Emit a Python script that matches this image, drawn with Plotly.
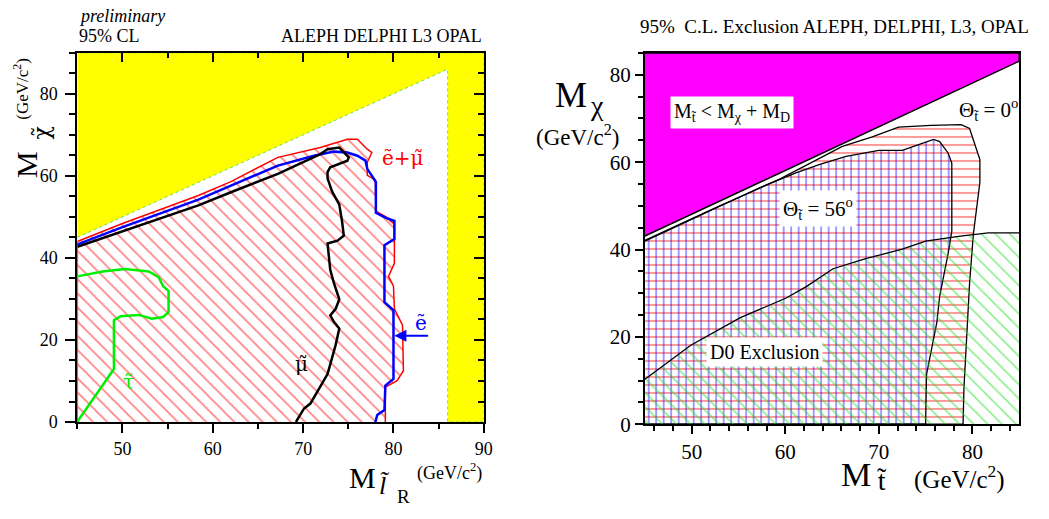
import plotly.graph_objects as go

W, H = 1049, 519
FONT = "Liberation Serif, Times New Roman, serif"
FONT_MARK = "DejaVu Serif, serif"

# ---------------- Left panel data (slepton) ----------------
yellow_x = [45, 86, 86, 90, 90, 45]
yellow_y = [45, 86, 0, 0, 90, 90]

red_emu_x = [45, 45, 50, 55, 58.4, 62, 67.2, 71.9, 74.9, 76.0, 77.1, 77.6, 77.1, 77.1, 78.0, 78.05,
             79.3, 80.1, 80.1, 79.45, 80.0, 80.1, 81.0, 81.1, 80.4, 79.1, 79.1]
red_emu_y = [0, 44, 48.4, 52.5, 55.2, 58.6, 64.5, 66.9, 68.9, 68.9, 66.5, 65.7, 63.3, 60.1, 59.0, 51.4,
             49.8, 48.2, 38.7, 35.5, 33.1, 27.6, 23.6, 12.5, 10.1, 8.5, 0]

sel_x = [45, 50, 58.4, 62, 67.2, 71.2, 73.4, 74.9, 76.0, 76.9, 77.1, 77.8, 78.05, 78.05, 79.1, 80.1,
         80.1, 79.0, 79.0, 80.0, 80.0, 79.1, 79.0, 78.2, 78.0]
sel_y = [43.3, 47.5, 54.2, 57.6, 62.5, 64.9, 65.9, 65.7, 64.9, 63.7, 61.7, 59.4, 58.5, 51.0, 49.8, 49.0,
         44.6, 43.1, 29.2, 27.2, 10.5, 8.9, 2.9, 1.7, 0]

smu_x = [45, 50, 58.4, 62, 67.2, 71.9, 72.7, 74.0, 75.05, 74.9, 73.0, 72.7, 72.7, 73.2, 74.0, 74.3,
         74.5, 73.8, 72.7, 73.0, 73.4, 74.0, 73.6, 73.0, 73.4, 74.0, 73.6, 72.7, 70.8, 70.1, 69.2]
smu_y = [42.7, 46.5, 52.8, 56, 60.5, 65.3, 66.5, 66.9, 64.5, 63.7, 62.1, 60.9, 59.4, 56.2, 53.0, 49.0,
         45.4, 44.2, 43.5, 37.1, 33.9, 29.9, 27.6, 26.0, 24.4, 22.8, 18.8, 11.7, 4.5, 3.3, 0]

stau_x = [45, 49.05, 49.05, 49.8, 51.8, 53.25, 54.5, 55.1, 55.1, 54.5, 54.0, 52.9, 50.3, 47.8, 45]
stau_y = [0.1, 12.9, 24.8, 25.8, 26.1, 25.2, 25.6, 26.8, 31.9, 33.1, 35.3, 36.7, 37.3, 36.7, 35.5]

# ---------------- Right panel data (stop) ----------------
kin_x = [45, 85, 85, 45]
kin_y = [43.1, 83.1, 85, 85]

th0_x = [45, 52.4, 59.4, 66.1, 69.3, 72.1, 75.6, 78.8, 79.7, 80.25, 80.8, 80.8, 80.4, 80.1, 79.7,
         79.4, 79.1, 79.0, 45]
th0_y = [42.1, 49.4, 56.1, 63.6, 65.8, 68.0, 68.4, 68.6, 67.7, 64.3, 60.6, 55.4, 48.7, 43.4, 32.3,
         19.6, 8.4, 0, 0]

th56_x = [45, 57.3, 61.2, 63.7, 66.5, 70.0, 72.5, 74.3, 75.85, 76.5, 77.4, 77.8, 77.8, 77.4, 76.5,
          76.2, 75.6, 75.1, 75.0, 45]
th56_y = [41.9, 54.2, 57.6, 59.5, 61.3, 62.7, 62.7, 64.0, 65.2, 64.7, 62.1, 59.8, 44.2, 39.0, 29.3,
          23.3, 16.6, 11.4, 0, 0]

d0_x = [45, 49.9, 55.2, 60.1, 62.25, 65.1, 68.6, 72.5, 75.0, 78.5, 81.7, 85]
d0_y = [10.3, 18.1, 24.4, 28.9, 31.5, 35.6, 37.9, 40.1, 41.9, 43.0, 43.8, 43.8]

fig = go.Figure()
CLR = "rgba(0,0,0,0)"

# ---- left panel ----
fig.add_trace(go.Scatter(x=yellow_x, y=yellow_y, fill="toself", fillcolor="#ffff00",
                         line=dict(color="#66dd66", width=1, dash="dot"), mode="lines",
                         xaxis="x", yaxis="y", hoverinfo="skip"))
fig.add_trace(go.Scatter(x=red_emu_x, y=red_emu_y, fill="toself", fillcolor=CLR,
                         fillpattern=dict(shape="\\", fgcolor="#ff0000", bgcolor="white",
                                          size=10, solidity=0.16),
                         line=dict(color="#ff0000", width=1.5), mode="lines",
                         xaxis="x", yaxis="y", hoverinfo="skip"))
fig.add_trace(go.Scatter(x=sel_x, y=sel_y, mode="lines", line=dict(color="#0000ff", width=2.5),
                         xaxis="x", yaxis="y"))
fig.add_trace(go.Scatter(x=smu_x, y=smu_y, mode="lines", line=dict(color="black", width=2.5),
                         xaxis="x", yaxis="y"))
fig.add_trace(go.Scatter(x=stau_x, y=stau_y, mode="lines", line=dict(color="#00ee00", width=2.5),
                         xaxis="x", yaxis="y"))

# ---- right panel ----
fig.add_trace(go.Scatter(x=th0_x, y=th0_y, fill="toself", fillcolor=CLR,
                         fillpattern=dict(shape="-", fgcolor="#ff0000", bgcolor="white",
                                          size=8, solidity=0.2),
                         line=dict(color="black", width=1.3), mode="lines",
                         xaxis="x2", yaxis="y2", hoverinfo="skip"))
fig.add_trace(go.Scatter(x=th56_x, y=th56_y, fill="toself", fillcolor=CLR,
                         fillpattern=dict(shape="|", fgcolor="#0000ff", bgcolor=CLR,
                                          size=7.5, solidity=0.2),
                         line=dict(color="black", width=1.3), mode="lines",
                         xaxis="x2", yaxis="y2", hoverinfo="skip"))
fig.add_trace(go.Scatter(x=d0_x + [85, 45], y=d0_y + [0, 0], fill="toself", fillcolor=CLR,
                         fillpattern=dict(shape="\\", fgcolor="#22dd22", bgcolor=CLR,
                                          size=10, solidity=0.17),
                         line=dict(width=0), mode="lines",
                         xaxis="x2", yaxis="y2", hoverinfo="skip"))
fig.add_trace(go.Scatter(x=d0_x, y=d0_y, mode="lines", line=dict(color="black", width=1.3),
                         xaxis="x2", yaxis="y2"))
fig.add_trace(go.Scatter(x=kin_x, y=kin_y, fill="toself", fillcolor="#ff00ff",
                         line=dict(color="black", width=1.5), mode="lines",
                         xaxis="x2", yaxis="y2", hoverinfo="skip"))


def P(px, py):
    return px / W, 1 - py / H


ann = []


def txt(px, py, text, size, color="black", angle=0, xa="center", ya="middle", bg=None, fam=FONT):
    x, y = P(px, py)
    d = dict(x=x, y=y, xref="paper", yref="paper", text=text, showarrow=False,
             font=dict(family=fam, size=size, color=color), textangle=angle,
             xanchor=xa, yanchor=ya)
    if bg:
        d.update(bgcolor=bg, borderpad=3)
    ann.append(d)


def dtxt(x, y, text, size, color, fam=FONT):
    ann.append(dict(x=x, y=y, xref="x", yref="y", text=text, showarrow=False,
                    font=dict(family=fam, size=size, color=color)))


# left panel texts
txt(78, 16, "<i>preliminary</i>", 18, xa="left")
txt(78, 37, "95% CL", 18, xa="left")
txt(488, 37, "ALEPH DELPHI L3 OPAL", 18, xa="right")
txt(26, 168, "M", 30, angle=-90)
txt(42, 136, "χ\u0303", 22, angle=-90, fam=FONT_MARK)
txt(21, 91, "(GeV/c<sup>2</sup>)", 17, angle=-90)
txt(366, 489, "M", 30)
txt(388, 497, "<i>l\u0303</i>", 26)
txt(407, 508, "R", 19)
txt(453, 483, "(GeV/c<sup>2</sup>)", 18)

# left data-anchored labels
dtxt(81.1, 64.3, "e\u0303+μ\u0303", 20, "#ff0000", fam=FONT_MARK)
dtxt(83.1, 24.2, "e\u0303", 20, "#0000ff", fam=FONT_MARK)
dtxt(69.8, 14.2, "μ\u0303", 20, "black", fam=FONT_MARK)
dtxt(50.7, 9.8, "τ\u0303", 20, "#00ee00", fam=FONT_MARK)
ann.append(dict(x=80.1, y=21, ax=84.0, ay=21, xref="x", yref="y", axref="x", ayref="y",
                text="", showarrow=True, arrowhead=2, arrowsize=1.2, arrowwidth=2,
                arrowcolor="#0000ff"))

# right panel texts
txt(1040, 27, "95%\u00a0 C.L. Exclusion ALEPH, DELPHI, L3, OPAL", 19, xa="right")
txt(576, 97, "M", 36)
txt(602, 108, "χ", 28)
txt(582, 139, "(GeV/c<sup>2</sup>)", 23)
txt(863, 486, "M", 34)
txt(890, 492, "t\u0303", 28)
txt(968, 489, "(GeV/c<sup>2</sup>)", 25)
txt(738, 115, "M<sub>t\u0303</sub> < M<sub>χ</sub> + M<sub>D</sub>", 20, bg="white")
txt(825, 213, "Θ<sub>t\u0303</sub> = 56<sup>o</sup>", 21, bg="white")
txt(997, 112, "Θ<sub>t\u0303</sub> = 0<sup>o</sup>", 21)
txt(771, 360, "D0 Exclusion", 20, bg="white")

lx0, lx1 = 78 / W, 488 / W
ly0, ly1 = (H - 432) / H, (H - 54) / H
rx0, rx1 = 650.5 / W, 1028 / W
ry0, ry1 = (H - 434.3) / H, (H - 54.2) / H

tickfont_l = dict(family=FONT, size=18, color="black")
tickfont_r = dict(family=FONT, size=21, color="black")

common = dict(showgrid=False, zeroline=False, showline=True, linecolor="black", linewidth=2,
              mirror=True, ticks="outside", tickcolor="black", tickwidth=1.5)

fig.update_layout(
    width=W, height=H, margin=dict(l=0, r=0, t=0, b=0),
    paper_bgcolor="white", plot_bgcolor="white", showlegend=False,
    annotations=ann,
    xaxis=dict(domain=[lx0, lx1], range=[45, 90], tickvals=[50, 60, 70, 80, 90], ticklen=9,
               minor=dict(dtick=5, ticklen=5, ticks="outside", tickcolor="black"),
               tickfont=tickfont_l, anchor="y", **common),
    yaxis=dict(domain=[ly0, ly1], range=[0, 90], tickvals=[0, 20, 40, 60, 80], ticklen=10,
               minor=dict(dtick=5, ticklen=6, ticks="outside", tickcolor="black"),
               tickfont=tickfont_l, anchor="x", ticklabelstandoff=4, **common),
    xaxis3=dict(domain=[lx0, lx1], range=[45, 90], overlaying="x", side="top", anchor="y",
                tickvals=[50, 60, 70, 80, 90], ticks="inside", ticklen=9, showticklabels=False,
                minor=dict(dtick=5, ticklen=5, ticks="inside"), showgrid=False, zeroline=False,
                tickcolor="black", tickwidth=1.5),
    yaxis3=dict(domain=[ly0, ly1], range=[0, 90], overlaying="y", side="right", anchor="x",
                tickvals=[0, 20, 40, 60, 80], ticks="inside", ticklen=10, showticklabels=False,
                minor=dict(dtick=5, ticklen=6, ticks="inside"), showgrid=False, zeroline=False,
                tickcolor="black", tickwidth=1.5),
    xaxis2=dict(domain=[rx0, rx1], range=[45, 85], tickvals=[50, 60, 70, 80], ticklen=8,
                minor=dict(dtick=2, ticklen=5, ticks="outside", tickcolor="black"),
                tickfont=tickfont_r, anchor="y2", **common),
    yaxis2=dict(domain=[ry0, ry1], range=[0, 85], tickvals=[0, 20, 40, 60, 80], ticklen=8,
                minor=dict(dtick=5, ticklen=5, ticks="outside", tickcolor="black"),
                tickfont=tickfont_r, anchor="x2", **common),
)
# invisible trace so the overlay (inside-tick) axes render
fig.add_trace(go.Scatter(x=[45], y=[0], xaxis="x3", yaxis="y3", mode="markers",
                         marker=dict(opacity=0), hoverinfo="skip"))

fig.write_html("out.html")
